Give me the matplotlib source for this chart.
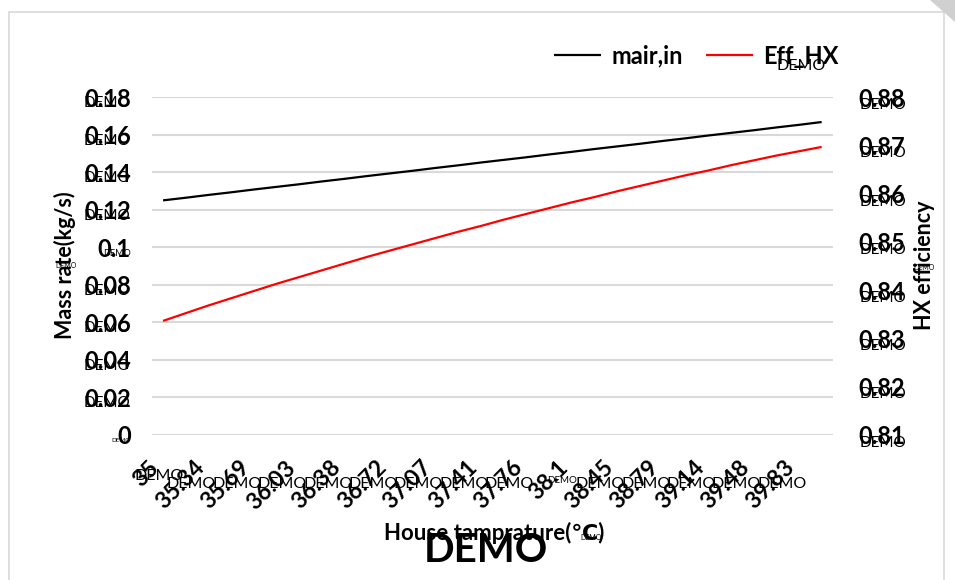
import matplotlib
matplotlib.use("Agg")
import matplotlib.pyplot as plt
from matplotlib.patches import Rectangle, Polygon
import matplotlib.transforms as mtransforms

plt.rcParams['font.family'] = ['Lato', 'DejaVu Sans']

# House temperature categories (°C)
temps = ["35", "35.17", "35.34", "35.52", "35.69", "35.86", "36.03", "36.21",
         "36.38", "36.55", "36.72", "36.9", "37.07", "37.24", "37.41", "37.59",
         "37.76", "37.93", "38.1", "38.28", "38.45", "38.62", "38.79", "38.97",
         "39.14", "39.31", "39.48", "39.66", "39.83", "40"]

# Air mass flow rate (kg/s)
mair_in = [0.1250, 0.1264, 0.1279, 0.1293, 0.1308, 0.1322, 0.1336, 0.1351,
           0.1365, 0.1380, 0.1394, 0.1408, 0.1423, 0.1437, 0.1452, 0.1466,
           0.1480, 0.1495, 0.1509, 0.1524, 0.1538, 0.1552, 0.1567, 0.1581,
           0.1596, 0.1610, 0.1624, 0.1639, 0.1653, 0.1668]

# Heat exchanger efficiency
eff_hx = [0.8336, 0.8352, 0.8368, 0.8383, 0.8398, 0.8413, 0.8427, 0.8441,
          0.8455, 0.8469, 0.8482, 0.8495, 0.8508, 0.8521, 0.8533, 0.8546,
          0.8558, 0.8570, 0.8582, 0.8593, 0.8605, 0.8616, 0.8627, 0.8638,
          0.8648, 0.8659, 0.8669, 0.8679, 0.8688, 0.8697]

left_ticks = [0, 0.02, 0.04, 0.06, 0.08, 0.1, 0.12, 0.14, 0.16, 0.18]
left_labels = ["0", "0.02", "0.04", "0.06", "0.08", "0.1", "0.12", "0.14", "0.16", "0.18"]
right_ticks = [0.81, 0.82, 0.83, 0.84, 0.85, 0.86, 0.87, 0.88]
right_labels = ["0.81", "0.82", "0.83", "0.84", "0.85", "0.86", "0.87", "0.88"]

W, H = 955, 580
fig = plt.figure(figsize=(W / 100, H / 100), dpi=100)

def fx(px):
    return px / W

def fy(py):
    return 1 - py / H

# chart frame
fig.patches.append(Rectangle((fx(9), fy(600)), fx(944) - fx(9), fy(12) - fy(600),
                             transform=fig.transFigure, fill=False,
                             edgecolor="#d9d9d9", lw=1.2))
fig.patches.append(Polygon([(fx(930), 1.0), (1.0, 1.0), (1.0, fy(22))],
                           closed=True, transform=fig.transFigure,
                           facecolor="#d0d0d0", edgecolor="none"))

ax_l, ax_r_px, ax_t, ax_b = 151.7, 833, 97.3, 434.6
ax = fig.add_axes([fx(ax_l), fy(ax_b), fx(ax_r_px) - fx(ax_l), fy(ax_t) - fy(ax_b)])
ax2 = ax.twinx()

x = list(range(len(temps)))
l1, = ax.plot(x, mair_in, color="black", lw=1.6, solid_capstyle="butt")
l2, = ax2.plot(x, eff_hx, color="#ff0000", lw=1.6, solid_capstyle="butt")

ax.set_xlim(-0.5, len(temps) - 0.5)
ax.set_ylim(0, 0.18)
ax2.set_ylim(0.81, 0.88)
ax.set_yticks(left_ticks)
ax.set_yticklabels(left_labels)
ax2.set_yticks(right_ticks)
ax2.set_yticklabels(right_labels)

xt = x[::2]
ax.set_xticks(xt)
ax.set_xticklabels([temps[i] for i in xt], rotation=45, ha="right", va="top",
                   fontsize=16.5, fontweight="bold")
shift = mtransforms.ScaledTranslation(5 / 100, 0, fig.dpi_scale_trans)
for t in ax.get_xticklabels():
    t.set_transform(t.get_transform() + shift)
ax.tick_params(axis="x", length=0, pad=16)
ax.tick_params(axis="y", length=0, pad=15, labelsize=17)
ax2.tick_params(axis="y", length=0, pad=18, labelsize=17)
for t in ax.get_yticklabels() + ax2.get_yticklabels():
    t.set_fontweight("bold")

ax.grid(axis="y", color="#d9d9d9", lw=1.5)
ax.set_axisbelow(True)
for a in (ax, ax2):
    for s in a.spines.values():
        s.set_visible(False)

# axis titles
fig.text(fx(65), fy(265), "Mass rate(kg/s)", rotation=90, ha="center", va="center",
         fontsize=15.5, fontweight="bold")
fig.text(fx(924), fy(265), "HX efficiency", rotation=90, ha="center", va="center",
         fontsize=15.5, fontweight="bold")
fig.text(fx(494), fy(533), "House tamprature(℃)", ha="center", va="center",
         fontsize=16, fontweight="bold")

# legend
fig.legend([l1, l2], ["mair,in", "Eff_HX"], loc="center left",
           bbox_to_anchor=(fx(554), fy(56)), bbox_transform=fig.transFigure,
           ncol=2, frameon=False, borderpad=0, borderaxespad=0,
           handlelength=2.0, handletextpad=0.42, columnspacing=1.0,
           prop={"weight": "bold", "size": 17})

# watermark stamps
wm = dict(color="black", ha="center", va="center")
fig.text(fx(486), fy(551), "DEMO", fontsize=29, fontweight="bold", **wm)
fig.text(fx(801), fy(66), "DEMO", fontsize=11.5, **wm)
fig.text(fx(66), fy(265), "DEMO", fontsize=5, **wm)
fig.text(fx(924), fy(267), "DEMO", fontsize=5, **wm)
fig.text(fx(591), fy(537), "DEMO", fontsize=5, **wm)

for v, lab in zip(left_ticks, left_labels):
    size = 11 if len(lab) == 4 else (6.5 if len(lab) == 3 else 4.5)
    off = mtransforms.offset_copy(ax.get_yaxis_transform(), fig=fig, x=-21, y=-6, units="dots")
    ax.text(0, v, "DEMO", transform=off, ha="right", va="center", fontsize=size,
            clip_on=False)

for v in right_ticks:
    off = mtransforms.offset_copy(ax2.get_yaxis_transform(), fig=fig, x=27, y=-8, units="dots")
    ax2.text(1, v, "DEMO", transform=off, ha="left", va="center", fontsize=11,
             clip_on=False)

for i in xt:
    lab = temps[i]
    size = 7 if len(lab) == 4 else 11.5
    dy = -49 if len(lab) == 5 else (-41 if len(lab) == 2 else -46)
    dx = -17 if len(lab) == 5 else (-4 if len(lab) == 2 else -10)
    off = mtransforms.offset_copy(ax.get_xaxis_transform(), fig=fig, x=dx, y=dy, units="dots")
    ax.text(i, 0, "DEMO", transform=off, ha="center", va="center", fontsize=size,
            clip_on=False)

fig.savefig("out.png", dpi=100)
